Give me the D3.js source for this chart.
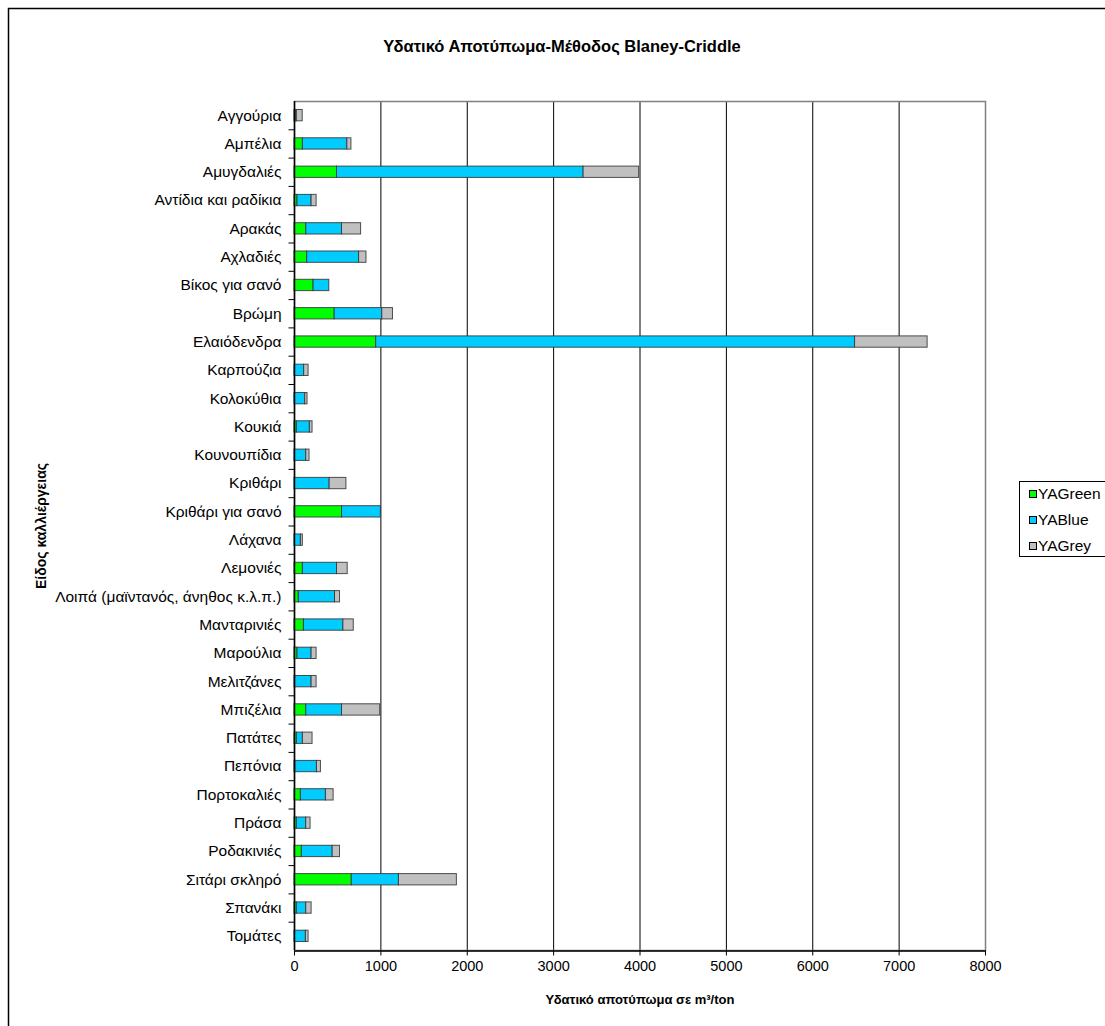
<!DOCTYPE html>
<html>
<head>
<meta charset="utf-8">
<script src="https://cdn.jsdelivr.net/npm/d3@7/dist/d3.min.js"></script>
<style>
  body { margin: 0; background: #fff; }
  svg { display: block; font-family: "Liberation Sans", Arial, sans-serif; }
</style>
</head>
<body>
<svg id="chart" width="1105" height="1026"></svg>
<script>
// Crops (top to bottom)
const categories = [
  "Αγγούρια", "Αμπέλια", "Αμυγδαλιές", "Αντίδια και ραδίκια", "Αρακάς",
  "Αχλαδιές", "Βίκος για σανό", "Βρώμη", "Ελαιόδενδρα", "Καρπούζια",
  "Κολοκύθια", "Κουκιά", "Κουνουπίδια", "Κριθάρι", "Κριθάρι για σανό",
  "Λάχανα", "Λεμονιές", "Λοιπά (μαϊντανός, άνηθος κ.λ.π.)", "Μανταρινιές", "Μαρούλια",
  "Μελιτζάνες", "Μπιζέλια", "Πατάτες", "Πεπόνια", "Πορτοκαλιές",
  "Πράσα", "Ροδακινιές", "Σιτάρι σκληρό", "Σπανάκι", "Τομάτες"
];

// Water footprint components, m³/ton
const yaGreen = [15, 97, 492, 35, 136, 147, 221, 465, 946, 5,
                 5, 27, 5, 5, 550, 5, 97, 50, 109, 35,
                 8, 136, 27, 10, 74, 27, 85, 663, 27, 5];
const yaBlue  = [12, 515, 2855, 163, 414, 601, 182, 551, 5544, 107,
                 119, 151, 131, 402, 450, 69, 395, 419, 457, 163,
                 190, 414, 70, 250, 290, 109, 357, 546, 109, 127];
const yaGrey  = [68, 47, 643, 58, 221, 85, 0, 124, 840, 51,
                 27, 31, 38, 194, 0, 23, 124, 58, 120, 58,
                 58, 442, 112, 46, 89, 50, 85, 671, 62, 31];

const seriesNames = ["YAGreen", "YABlue", "YAGrey"];
const seriesColors = ["#00ff00", "#00ccff", "#c0c0c0"];
const xTicks = [0, 1000, 2000, 3000, 4000, 5000, 6000, 7000, 8000];

const rows = categories.map((c, i) => ({
  name: c, YAGreen: yaGreen[i], YABlue: yaBlue[i], YAGrey: yaGrey[i]
}));

const svg = d3.select("#chart");
const W = 1105, H = 1026;
const plot = { left: 294, top: 101, right: 985, bottom: 950 };

// outer chart frame
svg.append("rect")
  .attr("x", 8.5).attr("y", 8.5)
  .attr("width", W + 20).attr("height", H + 20)
  .attr("fill", "#fff").attr("stroke", "#000").attr("stroke-width", 1.5);

const x = d3.scaleLinear().domain([0, 8000]).range([plot.left, plot.right]);
const y = d3.scaleBand().domain(categories).range([plot.top, plot.bottom])
  .paddingInner(0.6).paddingOuter(0.3);
const yBand = d3.scaleBand().domain(categories).range([plot.top, plot.bottom]);

// vertical gridlines
svg.append("g")
  .selectAll("line")
  .data(xTicks.slice(1, -1))
  .join("line")
  .attr("x1", d => x(d) + 0.5).attr("x2", d => x(d) + 0.5)
  .attr("y1", plot.top).attr("y2", plot.bottom)
  .attr("stroke", "#000").attr("stroke-width", 1);

// plot area border
svg.append("rect")
  .attr("x", plot.left + 0.5).attr("y", plot.top + 0.5)
  .attr("width", plot.right - plot.left).attr("height", plot.bottom - plot.top)
  .attr("fill", "none").attr("stroke", "#808080").attr("stroke-width", 1.5);

// stacked bars
const stack = d3.stack().keys(seriesNames)(rows);
const color = d3.scaleOrdinal().domain(seriesNames).range(seriesColors);

svg.append("g")
  .selectAll("g")
  .data(stack)
  .join("g")
  .attr("fill", d => color(d.key))
  .selectAll("rect")
  .data(d => d.filter(s => s[1] - s[0] > 0))
  .join("rect")
  .attr("x", d => x(d[0]))
  .attr("y", d => y(d.data.name))
  .attr("width", d => x(d[1]) - x(d[0]))
  .attr("height", y.bandwidth())
  .attr("stroke", "#333")
  .attr("stroke-width", 1)
  .attr("stroke-opacity", 0.85);

// x axis
const xAxis = d3.axisBottom(x).tickValues(xTicks).tickSize(5).tickSizeOuter(0)
  .tickFormat(d3.format("d"));
const gx = svg.append("g").attr("transform", `translate(0,${plot.bottom + 0.5})`).call(xAxis);
gx.select(".domain").attr("stroke", "#000").attr("stroke-width", 1.5);
gx.selectAll(".tick line").attr("stroke", "#000");
gx.selectAll(".tick text").attr("font-size", 14.5).attr("fill", "#000").attr("dy", "0.85em")
  .attr("font-family", "Liberation Sans, Arial, sans-serif");

// y axis: ticks at category boundaries
const gy = svg.append("g").attr("transform", `translate(${plot.left + 0.5},0)`);
gy.append("line")
  .attr("x1", 0).attr("x2", 0).attr("y1", plot.top).attr("y2", plot.bottom)
  .attr("stroke", "#000").attr("stroke-width", 1.5);
gy.selectAll("line.tk")
  .data(categories.slice(1))
  .join("line")
  .attr("class", "tk")
  .attr("x1", -6).attr("x2", 0)
  .attr("y1", d => yBand(d) + 0.5).attr("y2", d => yBand(d) + 0.5)
  .attr("stroke", "#000");
gy.selectAll("text")
  .data(categories)
  .join("text")
  .attr("x", -13)
  .attr("y", d => yBand(d) + yBand.bandwidth() / 2)
  .attr("dy", "0.35em")
  .attr("text-anchor", "end")
  .attr("font-size", 15.5)
  .attr("fill", "#000")
  .text(d => d);

// titles
svg.append("text")
  .attr("x", 562).attr("y", 52)
  .attr("text-anchor", "middle")
  .attr("font-size", 16.5).attr("font-weight", "bold")
  .text("Υδατικό Αποτύπωμα-Μέθοδος Blaney-Criddle");

svg.append("text")
  .attr("x", 640).attr("y", 1004)
  .attr("text-anchor", "middle")
  .attr("font-size", 13).attr("font-weight", "bold")
  .text("Υδατικό αποτύπωμα σε m³/ton");

svg.append("text")
  .attr("transform", `translate(46,526) rotate(-90)`)
  .attr("text-anchor", "middle")
  .attr("font-size", 14).attr("font-weight", "bold")
  .text("Είδος καλλιέργειας");

// legend
const lg = svg.append("g");
lg.append("rect")
  .attr("x", 1019.5).attr("y", 481.5).attr("width", 90).attr("height", 75)
  .attr("fill", "#fff").attr("stroke", "#000").attr("stroke-width", 1);
const items = lg.selectAll("g.item")
  .data(seriesNames)
  .join("g")
  .attr("class", "item")
  .attr("transform", (d, i) => `translate(1029,${494 + i * 26})`);
items.append("rect")
  .attr("x", 0.5).attr("y", -3.5).attr("width", 7).attr("height", 7)
  .attr("fill", d => color(d)).attr("stroke", "#000");
items.append("text")
  .attr("x", 9).attr("y", 0).attr("dy", "0.35em")
  .attr("font-size", 15.5).attr("fill", "#000")
  .text(d => d);
</script>
</body>
</html>
